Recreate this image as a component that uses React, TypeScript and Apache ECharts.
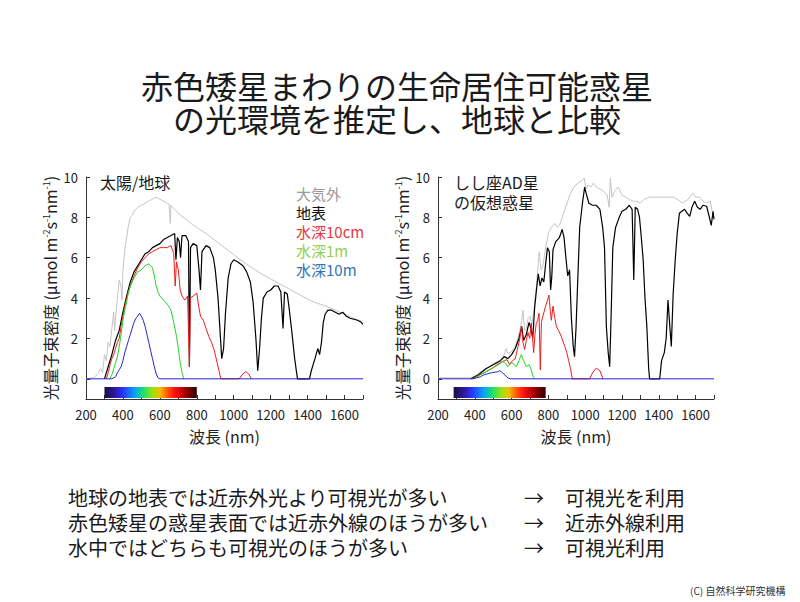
import React, { useEffect, useRef } from "react";
import * as echarts from "echarts";

const FONT = "'Noto Sans CJK JP', 'Noto Sans', sans-serif";

// ---- axis ticks ----
const xTickLabels = [200, 400, 600, 800, 1000, 1200, 1400, 1600];
const yTickLabels = [0, 2, 4, 6, 8, 10];

// ---- texts ----
const titleLines = ["赤色矮星まわりの生命居住可能惑星", "の光環境を推定し、地球と比較"];
const panelTitleLeft = ["太陽/地球"];
const panelTitleRight = ["しし座AD星", "の仮想惑星"];
const legendLabels = ["大気外", "地表", "水深10cm", "水深1m", "水深10m"];
const summaryLeft = [
  "地球の地表では近赤外光より可視光が多い",
  "赤色矮星の惑星表面では近赤外線のほうが多い",
  "水中ではどちらも可視光のほうが多い",
];
const summaryArrows = ["→", "→", "→"];
const summaryRight = ["可視光を利用", "近赤外線利用", "可視光利用"];
const credit = "(C) 自然科学研究機構";

// ---- colour bar extents [startNm, top, endNm, bottom] ----
const colorBarLeft = [300, -0.4, 800, -0.95];
const colorBarRight = [285, -0.4, 785, -0.95];

// ---- Left panel: Sun / Earth ----
const sunSpace: number[][] = [
  [200, 0], [240, 0.05], [260, 0.2], [280, 0.5], [290, 0.3], [300, 1.2], [310, 0.9], [320, 1.8],
  [330, 1.6], [340, 2.5], [350, 3.3], [355, 2.4], [360, 3.0], [370, 4.0], [380, 4.9], [390, 4.6],
  [395, 3.9], [400, 5.4], [410, 6.4], [420, 7.0], [430, 7.6], [440, 8.0], [450, 8.1], [460, 8.3],
  [480, 8.5], [500, 8.6], [520, 8.7], [540, 8.8], [560, 8.9], [580, 9.0], [600, 8.9], [620, 8.8],
  [640, 8.7], [650, 8.65], [656, 7.7], [660, 8.6], [680, 8.4], [700, 8.2], [720, 8.05], [750, 7.85],
  [775, 7.65], [800, 7.5], [850, 7.2], [900, 6.85], [950, 6.5], [1000, 6.15], [1050, 5.8], [1100, 5.5],
  [1150, 5.2], [1200, 4.95], [1250, 4.7], [1300, 4.45], [1350, 4.2], [1400, 3.95], [1450, 3.75],
  [1500, 3.6], [1550, 3.4], [1600, 3.2], [1650, 3.0], [1700, 2.84],
];
const sunSurface: number[][] = [
  [300, 0], [320, 0.6], [340, 1.2], [360, 1.9], [380, 2.4], [400, 3.3], [420, 4.1], [440, 4.8],
  [460, 5.3], [480, 5.6], [500, 5.9], [520, 6.2], [540, 6.3], [560, 6.5], [580, 6.6], [600, 6.7],
  [620, 6.9], [640, 7.0], [660, 7.1], [680, 7.2], [687, 5.9], [695, 7.0], [705, 6.8], [712, 6.0],
  [720, 7.1], [740, 7.1], [755, 6.8], [760, 0.6], [766, 6.5], [780, 6.7], [800, 6.6], [812, 5.4],
  [820, 4.4], [828, 6.3], [850, 6.6], [870, 6.5], [890, 6.0], [900, 5.4], [915, 4.0], [925, 2.5],
  [935, 1.0], [945, 1.5], [955, 3.2], [970, 5.0], [985, 5.7], [1000, 5.9], [1020, 5.8], [1050, 5.6],
  [1070, 5.3], [1090, 4.8], [1105, 3.8], [1120, 2.0], [1130, 0.4], [1140, 1.5], [1150, 3.0],
  [1160, 4.0], [1180, 4.3], [1200, 4.4], [1220, 4.6], [1240, 4.6], [1255, 4.3], [1267, 2.5],
  [1275, 4.3], [1290, 4.2], [1300, 3.5], [1315, 2.3], [1330, 1.0], [1345, 0], [1410, 0], [1420, 0.4],
  [1440, 1.0], [1455, 1.5], [1465, 1.2], [1475, 1.8], [1485, 2.8], [1495, 3.2], [1510, 3.4],
  [1530, 3.4], [1550, 3.3], [1570, 3.2], [1590, 3.3], [1610, 3.1], [1630, 3.0], [1650, 2.95],
  [1670, 2.9], [1690, 2.8], [1700, 2.7],
];
const sunDepth10cm: number[][] = [
  [310, 0], [320, 0.3], [330, 0.7], [340, 1.0], [350, 1.2], [360, 1.5], [370, 1.8], [380, 2.0],
  [390, 2.6], [400, 3.1], [410, 3.6], [420, 4.0], [440, 4.6], [460, 5.1], [480, 5.5], [500, 5.8],
  [520, 6.0], [540, 6.2], [560, 6.3], [580, 6.4], [600, 6.5], [620, 6.5], [640, 6.5], [660, 6.6],
  [675, 6.2], [683, 4.6], [690, 5.8], [700, 5.4], [710, 4.4], [720, 4.1], [735, 3.9], [750, 4.1],
  [760, 0.6], [765, 4.0], [780, 4.1], [800, 4.25], [810, 3.6], [820, 3.1], [835, 2.9], [850, 2.5],
  [865, 2.1], [880, 1.8], [895, 1.4], [910, 0.8], [920, 0.4], [930, 0], [1030, 0], [1045, 0.2],
  [1065, 0.36], [1080, 0.25], [1095, 0],
];
const sunDepth1m: number[][] = [
  [330, 0], [340, 0.2], [350, 0.5], [360, 0.8], [370, 1.1], [380, 1.6], [390, 2.2], [400, 2.9],
  [410, 3.4], [420, 3.8], [430, 4.3], [440, 4.6], [460, 5.0], [480, 5.3], [500, 5.4], [520, 5.6],
  [540, 5.7], [550, 5.6], [560, 5.5], [570, 5.1], [580, 4.6], [590, 4.3], [600, 4.1], [620, 3.9],
  [640, 3.7], [660, 3.4], [675, 2.8], [690, 2.1], [700, 1.5], [710, 0.8], [720, 0.3], [730, 0],
];
const sunDepth10m: number[][] = [
  [200, 0], [340, 0], [360, 0.1], [370, 0.3], [380, 0.45], [390, 0.6], [400, 0.9], [410, 1.3],
  [420, 1.6], [430, 1.9], [440, 2.2], [450, 2.5], [460, 2.8], [470, 3.0], [480, 3.1], [490, 3.25],
  [500, 3.1], [510, 2.9], [520, 2.6], [530, 2.2], [540, 1.8], [550, 1.4], [560, 1.0], [570, 0.6],
  [580, 0.25], [590, 0.05], [600, 0], [1700, 0],
];

// ---- Right panel: AD Leonis planet ----
const adSpace: number[][] = [
  [200, 0.05], [300, 0.05], [380, 0.05], [400, 0.15], [420, 0.25], [440, 0.4], [460, 0.5], [480, 0.6],
  [500, 0.75], [520, 0.85], [540, 0.95], [560, 1.2], [570, 1.5], [580, 1.25], [600, 1.35], [620, 1.6],
  [640, 2.2], [655, 2.9], [662, 3.4], [670, 2.4], [680, 2.5], [690, 3.0], [700, 3.1], [710, 2.7],
  [720, 3.3], [735, 4.6], [750, 6.3], [760, 5.4], [770, 5.6], [785, 6.5], [800, 7.2], [815, 7.5],
  [835, 7.7], [850, 7.5], [860, 7.6], [875, 8.0], [890, 8.4], [905, 8.8], [920, 9.2], [940, 9.5],
  [960, 9.7], [980, 9.8], [995, 9.95], [1005, 9.4], [1015, 9.6], [1030, 9.5], [1045, 9.7],
  [1060, 9.5], [1080, 9.4], [1100, 9.3], [1120, 9.1], [1130, 8.5], [1137, 9.95], [1145, 9.0],
  [1160, 9.3], [1180, 9.5], [1200, 9.1], [1220, 9.0], [1240, 8.9], [1260, 8.8], [1280, 8.8],
  [1300, 8.7], [1320, 8.9], [1350, 9.0], [1400, 9.0], [1450, 9.0], [1480, 9.0], [1500, 8.9],
  [1530, 8.7], [1560, 8.9], [1585, 9.2], [1600, 9.0], [1620, 9.0], [1640, 8.8], [1660, 8.7],
  [1680, 8.8], [1690, 8.3], [1700, 8.0],
];
const adSurface: number[][] = [
  [380, 0], [400, 0.1], [420, 0.2], [440, 0.35], [460, 0.5], [480, 0.6], [500, 0.7], [520, 0.8],
  [540, 0.9], [560, 1.1], [580, 1.0], [600, 1.2], [620, 1.5], [640, 2.0], [655, 2.6], [665, 1.9],
  [680, 2.2], [695, 2.8], [705, 2.5], [715, 2.0], [725, 3.5], [735, 4.4], [745, 5.2], [755, 4.6],
  [765, 5.0], [775, 4.8], [785, 5.7], [795, 6.5], [805, 6.3], [812, 4.4], [818, 5.0], [825, 6.4],
  [840, 6.8], [860, 7.0], [875, 7.4], [885, 7.0], [895, 6.0], [905, 5.1], [915, 5.4], [925, 3.0],
  [935, 1.6], [942, 1.1], [950, 2.5], [960, 5.0], [970, 7.5], [985, 8.7], [997, 9.5], [1005, 9.2],
  [1020, 8.7], [1040, 8.6], [1060, 8.6], [1080, 8.4], [1095, 7.5], [1105, 6.5], [1115, 2.6],
  [1125, 1.3], [1133, 0.6], [1142, 3.5], [1150, 6.5], [1165, 7.5], [1185, 8.0], [1200, 8.3],
  [1220, 8.4], [1240, 8.6], [1255, 8.4], [1264, 4.9], [1272, 8.5], [1285, 8.4], [1295, 8.0],
  [1305, 7.0], [1315, 5.9], [1325, 4.0], [1335, 2.6], [1345, 0.5], [1350, 0], [1405, 0], [1415, 0.9],
  [1430, 1.3], [1440, 2.0], [1450, 3.9], [1460, 2.6], [1468, 1.6], [1478, 4.2], [1490, 6.0],
  [1500, 7.2], [1512, 8.2], [1525, 8.3], [1540, 8.4], [1555, 8.2], [1568, 8.05], [1580, 8.5],
  [1595, 8.8], [1610, 8.5], [1625, 8.4], [1640, 8.6], [1660, 8.55], [1675, 8.0], [1685, 7.6],
  [1695, 8.3], [1700, 7.9],
];
const adDepth10cm: number[][] = [
  [390, 0], [410, 0.1], [430, 0.2], [460, 0.35], [480, 0.45], [500, 0.55], [520, 0.7], [540, 0.8],
  [560, 0.9], [575, 0.95], [590, 0.7], [605, 0.9], [620, 1.0], [635, 1.6], [645, 2.0], [653, 2.6],
  [662, 1.8], [671, 1.45], [680, 1.9], [689, 2.3], [698, 2.0], [707, 2.75], [714, 2.0], [720, 1.3],
  [727, 2.2], [734, 2.75], [742, 2.9], [749, 3.25], [756, 0.45], [762, 2.8], [770, 3.1], [785, 3.6],
  [795, 3.9], [803, 4.15], [810, 3.4], [816, 2.9], [825, 3.6], [835, 3.0], [843, 2.6], [855, 2.4],
  [870, 2.1], [889, 1.6], [900, 1.3], [910, 0.9], [920, 0.5], [930, 0], [1025, 0], [1040, 0.3],
  [1060, 0.53], [1080, 0.4], [1097, 0],
];
const adDepth1m: number[][] = [
  [390, 0], [410, 0.1], [430, 0.2], [450, 0.3], [470, 0.4], [490, 0.5], [510, 0.6], [530, 0.7],
  [550, 0.85], [565, 0.8], [580, 0.6], [595, 0.8], [610, 0.75], [625, 0.6], [640, 0.9], [653, 1.2],
  [665, 0.9], [680, 0.6], [695, 0.7], [705, 0.5], [715, 0.15], [725, 0],
];
const adDepth10m: number[][] = [
  [200, 0], [390, 0], [410, 0.05], [430, 0.1], [450, 0.2], [470, 0.25], [490, 0.3], [510, 0.33],
  [525, 0.35], [535, 0.4], [545, 0.35], [555, 0.25], [565, 0.18], [575, 0.08], [585, 0.02],
  [595, 0], [1700, 0],
];

const lineColors = ["#c4c4c4", "#000000", "#ee1c1c", "#22d822", "#2424c8"];
const legendColors = ["#9a9a9a", "#111111", "#e8383d", "#92d050", "#2e75b6"];

const spectrumStops = [
  { offset: 0, color: "#1c0c48" },
  { offset: 0.1, color: "#2a1890" },
  { offset: 0.2, color: "#2a34ff" },
  { offset: 0.32, color: "#0a9cff" },
  { offset: 0.42, color: "#18e070" },
  { offset: 0.52, color: "#9ce010" },
  { offset: 0.6, color: "#f0c000" },
  { offset: 0.68, color: "#ff5a00" },
  { offset: 0.76, color: "#ff1010" },
  { offset: 0.88, color: "#a00000" },
  { offset: 1, color: "#2a0000" },
];

export default function App() {
  const ref = useRef<HTMLDivElement>(null);

  useEffect(() => {
    document.body.style.margin = "0";
    if (!ref.current) return;
    const chart = echarts.init(ref.current, null, { renderer: "svg" });

    const panels = [
      { series: [sunSpace, sunSurface, sunDepth10cm, sunDepth1m, sunDepth10m], bar: colorBarLeft },
      { series: [adSpace, adSurface, adDepth10cm, adDepth1m, adDepth10m], bar: colorBarRight },
    ];

    const axisColor = "#333";
    const xAxis = [0, 1].map((i) => ({
      type: "value",
      gridIndex: i,
      min: 200,
      max: 1700,
      interval: 100,
      axisLine: { show: true, onZero: false, lineStyle: { color: axisColor, width: 1 } },
      axisTick: { show: true, inside: true, length: 4, lineStyle: { color: axisColor } },
      axisLabel: {
        formatter: (v: number) => (xTickLabels.includes(v) ? String(v) : ""),
        fontSize: 13,
        color: "#222",
        margin: 9,
        fontFamily: FONT,
      },
      splitLine: { show: false },
      name: "波長 (nm)",
      nameLocation: "middle",
      nameGap: 29,
      nameTextStyle: { fontSize: 16, color: "#222", fontFamily: FONT },
    }));
    const yAxis = [0, 1].map((i) => ({
      type: "value",
      gridIndex: i,
      min: -1,
      max: 10,
      axisLine: { show: true, onZero: false, lineStyle: { color: axisColor, width: 1 } },
      axisTick: { show: true, inside: true, length: 4, customValues: yTickLabels, lineStyle: { color: axisColor } },
      axisLabel: { customValues: yTickLabels, fontSize: 13, color: "#222", margin: 8, fontFamily: FONT },
      splitLine: { show: false },
      name: "光量子束密度 (μmol m{s|-2}s{s|-1}nm{s|-1})",
      nameLocation: "middle",
      nameGap: 28,
      nameTextStyle: {
        fontSize: 16,
        color: "#222",
        fontFamily: FONT,
        rich: { s: { fontSize: 9, verticalAlign: "top", color: "#222", fontFamily: FONT } },
      },
    }));

    const series: any[] = [];
    panels.forEach((p, i) => {
      series.push({
        type: "custom",
        xAxisIndex: i,
        yAxisIndex: i,
        silent: true,
        data: [p.bar],
        encode: { x: [0, 2], y: [1, 3] },
        renderItem: (_params: any, api: any) => {
          const p1 = api.coord([api.value(0), api.value(1)]);
          const p2 = api.coord([api.value(2), api.value(3)]);
          return {
            type: "rect",
            shape: { x: p1[0], y: p1[1], width: p2[0] - p1[0], height: p2[1] - p1[1] },
            style: { fill: new echarts.graphic.LinearGradient(0, 0, 1, 0, spectrumStops) },
          };
        },
      });
      p.series.forEach((d, k) => {
        series.push({
          type: "line",
          name: legendLabels[k],
          xAxisIndex: i,
          yAxisIndex: i,
          data: d,
          showSymbol: false,
          symbol: "none",
          silent: true,
          lineStyle: { color: lineColors[k], width: k === 1 ? 1.2 : 1 },
          z: 2 + k,
        });
      });
    });

    const textEl = (
      text: string,
      x: number,
      y: number,
      size: number,
      color: string,
      align = "left",
      lineHeight?: number,
      rich?: any
    ) => ({
      type: "text",
      x,
      y,
      silent: true,
      style: {
        text,
        fill: color,
        fontSize: size,
        fontFamily: FONT,
        textAlign: align,
        textVerticalAlign: "top",
        lineHeight: lineHeight ?? Math.round(size * 1.2),
        rich,
      },
    });

    const legendRich: any = {};
    legendLabels.forEach((_t, k) => {
      legendRich["c" + k] = { fill: legendColors[k], color: legendColors[k], fontSize: 15, fontFamily: FONT, lineHeight: 19 };
    });
    const legendText = legendLabels.map((t, k) => `{c${k}|${t}}`).join("\n");

    const graphic: any[] = [
      textEl(titleLines.join("\n"), 397, 68, 32, "#1a1a1a", "center", 33),
      textEl(panelTitleLeft[0], 100, 172, 16, "#1a1a1a"),
      textEl(panelTitleRight.join("\n"), 454, 172, 16, "#1a1a1a", "left", 20),
      textEl(legendText, 296, 183.5, 15, "#111", "left", 19, legendRich),
      textEl(summaryLeft.join("\n"), 68, 484.5, 20, "#1a1a1a", "left", 25),
      textEl(summaryArrows.join("\n"), 524, 484.5, 20, "#1a1a1a", "left", 25),
      textEl(summaryRight.join("\n"), 565, 484.5, 20, "#1a1a1a", "left", 25),
      textEl(credit, 690, 584, 10, "#333"),
    ];

    chart.setOption({
      animation: false,
      backgroundColor: "#ffffff",
      grid: [
        { left: 86, top: 177, width: 277, height: 222 },
        { left: 438, top: 177, width: 276, height: 222 },
      ],
      xAxis,
      yAxis,
      series,
      graphic,
    });

    return () => chart.dispose();
  }, []);

  return <div ref={ref} style={{ width: 800, height: 602 }} />;
}
